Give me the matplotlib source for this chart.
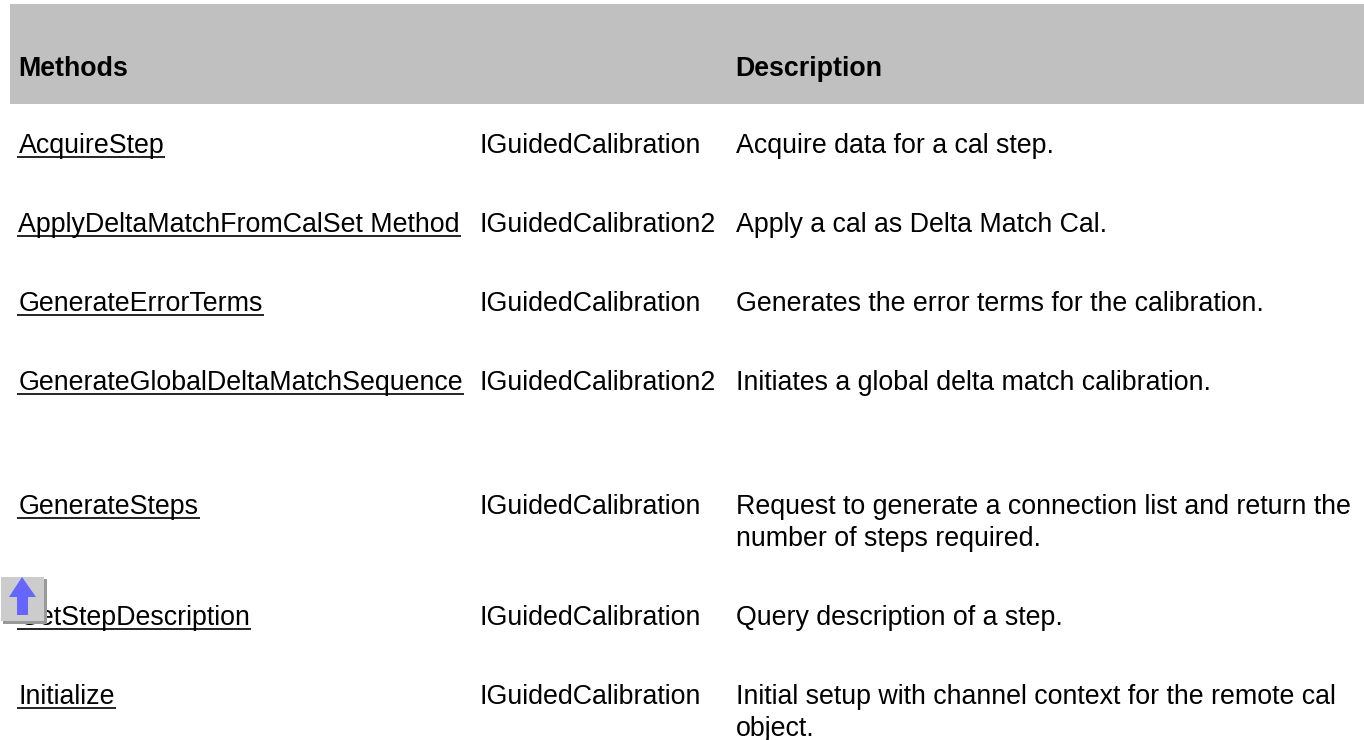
import matplotlib
matplotlib.use('Agg')
import matplotlib.pyplot as plt
from matplotlib.patches import Rectangle, Polygon

plt.rcParams['font.family'] = ['Liberation Sans', 'DejaVu Sans']

W, H = 1364, 740
FS = 19.3

headers = ['Methods', 'Description']
methods = ['AcquireStep', 'ApplyDeltaMatchFromCalSet Method', 'GenerateErrorTerms',
           'GenerateGlobalDeltaMatchSequence', 'GenerateSteps', 'GetStepDescription', 'Initialize']
interfaces = ['IGuidedCalibration', 'IGuidedCalibration2', 'IGuidedCalibration',
              'IGuidedCalibration2', 'IGuidedCalibration', 'IGuidedCalibration', 'IGuidedCalibration']
descriptions = ['Acquire data for a cal step.', 'Apply a cal as Delta Match Cal.',
                'Generates the error terms for the calibration.',
                'Initiates a global delta match calibration.',
                'Request to generate a connection list and return the\nnumber of steps required.',
                'Query description of a step.',
                'Initial setup with channel context for the remote cal\nobject.']
row_y = [153, 232, 311, 390, 514, 625, 704]

fig = plt.figure(figsize=(W / 100, H / 100), dpi=100)
ax = fig.add_axes([0, 0, 1, 1])
ax.set_xlim(0, W)
ax.set_ylim(H, 0)
ax.axis('off')

# header band
ax.add_patch(Rectangle((10, 4), W - 10, 100, color='#c0c0c0', lw=0))
ax.text(18.5, 76, headers[0], fontsize=FS, fontweight='bold', va='baseline')
ax.text(735.5, 76, headers[1], fontsize=FS, fontweight='bold', va='baseline')

# table rows
fig.canvas.draw()
r = fig.canvas.get_renderer()
for name, iface, desc, y in zip(methods, interfaces, descriptions, row_y):
    t = ax.text(18.5, y, name, fontsize=FS, va='baseline', color='black')
    ext = t.get_window_extent(r)
    ax.plot([17, ext.x1 + 1], [y + 4, y + 4], color='black', lw=1.2, solid_capstyle='butt')
    ax.text(480, y, iface, fontsize=FS, va='baseline', color='black')
    lines = desc.split('\n')
    for i, line in enumerate(lines):
        ax.text(736, y + i * 32, line, fontsize=FS, va='baseline', color='black')

# back-to-top arrow icon
ax.add_patch(Rectangle((3, 579), 44, 45, color='#999999', lw=0, zorder=5))
ax.add_patch(Rectangle((1, 577), 43, 44, color='#cccccc', lw=0, zorder=6))
ax.add_patch(Polygon([(22, 577), (36, 597), (28, 597), (28, 615), (17, 615), (17, 597), (9, 597)],
                     closed=True, color='#6666ff', lw=0, zorder=7))

fig.savefig('out.png', dpi=100)
